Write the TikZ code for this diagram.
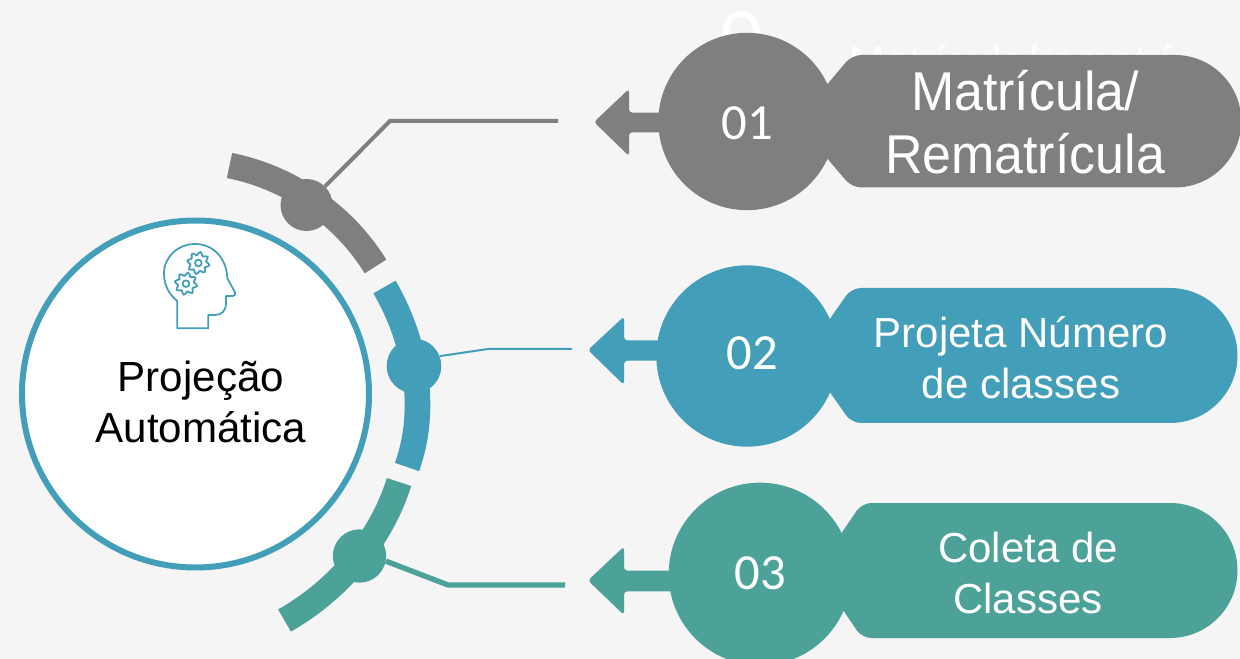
\documentclass[tikz,border=0pt]{standalone}
\usepackage{fontspec}
\setmainfont{Liberation Sans}
\newfontfamily\numfont{Carlito}
\usetikzlibrary{calc}
\definecolor{bgc}{HTML}{F5F5F5}
\definecolor{grayc}{HTML}{7F7F7F}
\definecolor{bluec}{HTML}{429EB9}
\definecolor{tealc}{HTML}{4CA199}
\tikzset{
  iconline/.style={draw=bluec,line width=1.3pt,line join=round},
  bandarc/.style={line width=19.2pt},
  lbl/.style={text=white,align=center,inner sep=0pt,font=\fontsize{31.5}{38.5}\selectfont},
  numlbl/.style={text=white,inner sep=0pt,font=\numfont\fontsize{38}{40}\selectfont},
}
\begin{document}
\begin{tikzpicture}[x=0.75pt,y=-0.75pt]
\useasboundingbox (0,0) rectangle (1240,659);
\fill[bgc] (0,0) rectangle (1240,659);
% ghost texts
\node[text=white,inner sep=0pt,font=\fontsize{60}{60}\selectfont,anchor=base] (ghostnum) at (742,68) {0};
\node[text=white,inner sep=0pt,font=\fontsize{32}{32}\selectfont,anchor=base] (ghosttxt) at (1011,77) {Matrícula/rematrí};
% main circle
\node[circle,draw=bluec,fill=white,line width=4.5pt,minimum size=347*0.75pt,inner sep=0pt] (main) at (195.5,394) {};
\node[inner sep=0pt,align=center,font=\fontsize{31.6}{38.5}\selectfont] (maintxt) at (201,402) {Projeção\\Automática};
% arcs
\draw[grayc,bandarc] (229.5,165.5) .. controls (289.5,177.5) and (343.5,214.5) .. (375.5,266.5);
\draw[bluec,bandarc] (384.5,287) .. controls (416,341) and (428,409) .. (407,467);
\draw[tealc,bandarc] (399,482) .. controls (381,540) and (337.5,590.5) .. (284.5,620.5);
% dots
\node[circle,fill=grayc,minimum size=39pt,inner sep=0pt] (d1) at (306.5,205) {};
\node[circle,fill=bluec,minimum size=41pt,inner sep=0pt] (d2) at (414,366) {};
\node[circle,fill=tealc,minimum size=40pt,inner sep=0pt] (d3) at (359.5,556) {};
% connector ends
\coordinate (e1) at (558,121);
\coordinate (e2) at (572,349);
\coordinate (e3) at (565,585);
\draw[grayc,line width=3pt] (d1) -- (390,121) -- (e1);
\draw[bluec,line width=1.5pt] (d2.21) -- (488,349) -- (e2);
\draw[tealc,line width=4pt] (d3.-11) -- (448,585) -- (e3);
% icon
\begin{scope}[shift={(120,220)},x=0.25pt,y=-0.25pt]
\draw[iconline] (172,325) -- (172,243) .. controls (150,225) and (132,200) .. (132,160)
  .. controls (132,110) and (175,72) .. (225,72) .. controls (280,72) and (320,115) .. (322,175)
  -- (345,217) .. controls (348,224) and (344,228) .. (338,228) -- (318,228) -- (318,250)
  .. controls (318,272) and (305,285) .. (285,285) -- (265,285) -- (265,325) -- cycle;
\foreach \cx/\cy in {235/129,198/191}{
  \draw[iconline] (\cx,\cy) circle (10);
  \draw[iconline,rounded corners=1pt] plot[samples at={0,...,31},variable=\k]
     ({\cx+(mod(\k,4)<2 ? 34 : 24)*cos(\k*11.25+5.6)},{\cy+(mod(\k,4)<2 ? 34 : 24)*sin(\k*11.25+5.6)}) -- cycle;
}
\end{scope}
% arrows
\fill[grayc,rounded corners=2.5pt] (594,122) -- (629,89) -- (629,112.7) -- (670,112.7) -- (670,132.3) -- (629,132.3) -- (629,156) -- cycle;
\fill[bluec,rounded corners=2.5pt] (588,350) -- (624,316.5) -- (624,340.3) -- (670,340.3) -- (670,360.7) -- (624,360.7) -- (624,385) -- cycle;
\fill[tealc,rounded corners=2.5pt] (588,580.5) -- (624,546.5) -- (624,570.7) -- (680,570.7) -- (680,591.3) -- (624,591.3) -- (624,615) -- cycle;
% pills
\fill[grayc] (814,100) [rounded corners=7pt] -- (852,55) [sharp corners] -- (1175,55) arc[start angle=90,end angle=-90,radius=66.25*0.75pt] [rounded corners=7pt] -- (852,187.5) [sharp corners] -- (814,143) -- cycle;
\fill[bluec] (820,333) [rounded corners=7pt] -- (851.5,288) [sharp corners] -- (1170,288) arc[start angle=90,end angle=-90,radius=67.5*0.75pt] [rounded corners=7pt] -- (851.5,423) [sharp corners] -- (820,378) -- cycle;
\fill[tealc] (830,550) [rounded corners=7pt] -- (862,503) [sharp corners] -- (1170,503) arc[start angle=90,end angle=-90,radius=67.5*0.75pt] [rounded corners=7pt] -- (862,638) [sharp corners] -- (830,591) -- cycle;
% number circles
\node[circle,fill=grayc,minimum size=133pt,inner sep=0pt] (c1) at (747,121.5) {};
\node[circle,fill=bluec,minimum size=136pt,inner sep=0pt] (c2) at (747,356) {};
\node[circle,fill=tealc,minimum size=137pt,inner sep=0pt] (c3) at (760,574) {};
\node[numlbl] (n1) at (747,123) {01};
\node[numlbl] (n2) at (752,353) {02};
\node[numlbl] (n3) at (760,573) {03};
\node[lbl,font=\fontsize{41}{47.2}\selectfont,xscale=0.95] (t1) at (1025,122.5) {Matrícula/\\Rematrícula};
\node[lbl] (t2) at (1021,358) {Projeta Número\\de classes};
\node[lbl] (t3) at (1028,573) {Coleta de\\Classes};
\end{tikzpicture}
\end{document}
